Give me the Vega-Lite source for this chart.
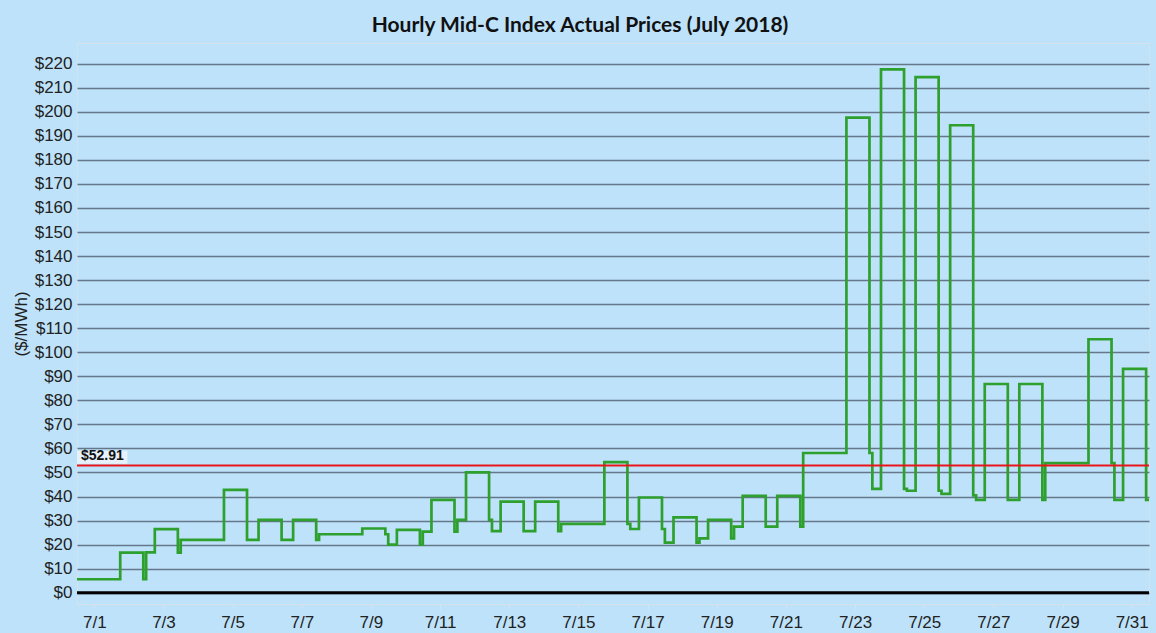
{
  "$schema": "https://vega.github.io/schema/vega-lite/v6.json",
  "width": 1072,
  "height": 561,
  "autosize": {"type": "none"},
  "padding": {"left": 77, "top": 43, "right": 7, "bottom": 29},
  "background": "#bee2fa",
  "title": {
    "text": "Hourly Mid-C Index Actual Prices (July 2018)",
    "font": "Lato",
    "fontSize": 21,
    "fontWeight": "bold",
    "color": "#111111",
    "anchor": "middle",
    "dx": -33,
    "offset": 7
  },
  "config": {
    "view": {"stroke": "#d5e2ec", "strokeWidth": 1},
    "axis": {
      "labelFont": "Liberation Sans",
      "labelFontSize": 17,
      "labelColor": "#222222",
      "titleFont": "Liberation Sans",
      "titleFontSize": 17,
      "titleFontWeight": "normal",
      "titleColor": "#222222"
    },
    "axisY": {"tickCount": 23, "labelOverlap": false}
  },
  "layer": [
    {
      "data": {
        "values": [
          {"t": "2018-07-01T00:00", "p": 5.6},
          {"t": "2018-07-02T06:00", "p": 16.7},
          {"t": "2018-07-02T22:00", "p": 5.6},
          {"t": "2018-07-03T00:00", "p": 16.8},
          {"t": "2018-07-03T06:00", "p": 26.4},
          {"t": "2018-07-03T22:00", "p": 16.7},
          {"t": "2018-07-04T00:00", "p": 22.0},
          {"t": "2018-07-05T06:00", "p": 42.8},
          {"t": "2018-07-05T22:00", "p": 22.0},
          {"t": "2018-07-06T06:00", "p": 30.3},
          {"t": "2018-07-06T22:00", "p": 22.0},
          {"t": "2018-07-07T06:00", "p": 30.3},
          {"t": "2018-07-07T22:00", "p": 22.0},
          {"t": "2018-07-08T00:00", "p": 24.3},
          {"t": "2018-07-09T06:00", "p": 26.7},
          {"t": "2018-07-09T22:00", "p": 24.3},
          {"t": "2018-07-10T00:00", "p": 20.0},
          {"t": "2018-07-10T06:00", "p": 26.1},
          {"t": "2018-07-10T22:00", "p": 20.0},
          {"t": "2018-07-11T00:00", "p": 25.4},
          {"t": "2018-07-11T06:00", "p": 38.6},
          {"t": "2018-07-11T22:00", "p": 25.4},
          {"t": "2018-07-12T00:00", "p": 30.3},
          {"t": "2018-07-12T06:00", "p": 50.0},
          {"t": "2018-07-12T22:00", "p": 30.3},
          {"t": "2018-07-13T00:00", "p": 25.6},
          {"t": "2018-07-13T06:00", "p": 37.9},
          {"t": "2018-07-13T22:00", "p": 25.6},
          {"t": "2018-07-14T06:00", "p": 37.9},
          {"t": "2018-07-14T22:00", "p": 25.6},
          {"t": "2018-07-15T00:00", "p": 28.6},
          {"t": "2018-07-16T06:00", "p": 54.3},
          {"t": "2018-07-16T22:00", "p": 28.6},
          {"t": "2018-07-17T00:00", "p": 26.5},
          {"t": "2018-07-17T06:00", "p": 39.6},
          {"t": "2018-07-17T22:00", "p": 26.5},
          {"t": "2018-07-18T00:00", "p": 20.8},
          {"t": "2018-07-18T06:00", "p": 31.3},
          {"t": "2018-07-18T22:00", "p": 20.8},
          {"t": "2018-07-19T00:00", "p": 22.6},
          {"t": "2018-07-19T06:00", "p": 30.3},
          {"t": "2018-07-19T22:00", "p": 22.6},
          {"t": "2018-07-20T00:00", "p": 27.5},
          {"t": "2018-07-20T06:00", "p": 40.3},
          {"t": "2018-07-20T22:00", "p": 27.5},
          {"t": "2018-07-21T06:00", "p": 40.3},
          {"t": "2018-07-21T22:00", "p": 27.5},
          {"t": "2018-07-22T00:00", "p": 58.1},
          {"t": "2018-07-23T06:00", "p": 197.6},
          {"t": "2018-07-23T22:00", "p": 58.1},
          {"t": "2018-07-24T00:00", "p": 43.2},
          {"t": "2018-07-24T06:00", "p": 217.6},
          {"t": "2018-07-24T22:00", "p": 43.2},
          {"t": "2018-07-25T00:00", "p": 42.4},
          {"t": "2018-07-25T06:00", "p": 214.4},
          {"t": "2018-07-25T22:00", "p": 42.4},
          {"t": "2018-07-26T00:00", "p": 41.1},
          {"t": "2018-07-26T06:00", "p": 194.4},
          {"t": "2018-07-26T22:00", "p": 40.5},
          {"t": "2018-07-27T00:00", "p": 38.6},
          {"t": "2018-07-27T06:00", "p": 86.8},
          {"t": "2018-07-27T22:00", "p": 38.6},
          {"t": "2018-07-28T06:00", "p": 86.8},
          {"t": "2018-07-28T22:00", "p": 38.6},
          {"t": "2018-07-29T00:00", "p": 53.9},
          {"t": "2018-07-30T06:00", "p": 105.4},
          {"t": "2018-07-30T22:00", "p": 53.9},
          {"t": "2018-07-31T00:00", "p": 38.6},
          {"t": "2018-07-31T06:00", "p": 93.1},
          {"t": "2018-07-31T22:00", "p": 38.6},
          {"t": "2018-08-01T00:00", "p": 38.6}
        ]
      },
      "mark": {"type": "line", "interpolate": "step-after", "color": "#2ea02e", "strokeWidth": 2.7, "strokeJoin": "miter"},
      "encoding": {
        "x": {
          "field": "t",
          "type": "temporal",
          "title": null,
          "scale": {
            "domain": [
              {"year": 2018, "month": 7, "date": 1},
              {"year": 2018, "month": 8, "date": 1}
            ],
            "nice": false
          },
          "axis": {
            "values": [
              {"year": 2018, "month": 7, "date": 1, "hours": 12},
              {"year": 2018, "month": 7, "date": 2, "hours": 12},
              {"year": 2018, "month": 7, "date": 3, "hours": 12},
              {"year": 2018, "month": 7, "date": 4, "hours": 12},
              {"year": 2018, "month": 7, "date": 5, "hours": 12},
              {"year": 2018, "month": 7, "date": 6, "hours": 12},
              {"year": 2018, "month": 7, "date": 7, "hours": 12},
              {"year": 2018, "month": 7, "date": 8, "hours": 12},
              {"year": 2018, "month": 7, "date": 9, "hours": 12},
              {"year": 2018, "month": 7, "date": 10, "hours": 12},
              {"year": 2018, "month": 7, "date": 11, "hours": 12},
              {"year": 2018, "month": 7, "date": 12, "hours": 12},
              {"year": 2018, "month": 7, "date": 13, "hours": 12},
              {"year": 2018, "month": 7, "date": 14, "hours": 12},
              {"year": 2018, "month": 7, "date": 15, "hours": 12},
              {"year": 2018, "month": 7, "date": 16, "hours": 12},
              {"year": 2018, "month": 7, "date": 17, "hours": 12},
              {"year": 2018, "month": 7, "date": 18, "hours": 12},
              {"year": 2018, "month": 7, "date": 19, "hours": 12},
              {"year": 2018, "month": 7, "date": 20, "hours": 12},
              {"year": 2018, "month": 7, "date": 21, "hours": 12},
              {"year": 2018, "month": 7, "date": 22, "hours": 12},
              {"year": 2018, "month": 7, "date": 23, "hours": 12},
              {"year": 2018, "month": 7, "date": 24, "hours": 12},
              {"year": 2018, "month": 7, "date": 25, "hours": 12},
              {"year": 2018, "month": 7, "date": 26, "hours": 12},
              {"year": 2018, "month": 7, "date": 27, "hours": 12},
              {"year": 2018, "month": 7, "date": 28, "hours": 12},
              {"year": 2018, "month": 7, "date": 29, "hours": 12},
              {"year": 2018, "month": 7, "date": 30, "hours": 12},
              {"year": 2018, "month": 7, "date": 31, "hours": 12}
            ],
            "labelExpr": "date(datum.value) % 2 == 1 ? timeFormat(datum.value, '%-m/%-d') : ''",
            "labelOverlap": false,
            "grid": false,
            "domain": false,
            "ticks": true,
            "tickColor": "#d6e2ec",
            "tickSize": 5,
            "labelPadding": 5,
            "labelBaseline": "top"
          }
        },
        "y": {
          "field": "p",
          "type": "quantitative",
          "title": "($/MWh)",
          "scale": {"domain": [-4.7, 228.6], "nice": false, "zero": false},
          "axis": {
            "values": [0, 10, 20, 30, 40, 50, 60, 70, 80, 90, 100, 110, 120, 130, 140, 150, 160, 170, 180, 190, 200, 210, 220],
            "tickCount": 23,
            "format": "$.0f",
            "labelOverlap": false,
            "grid": true,
            "gridColor": "#66778a",
            "gridWidth": 1.6,
            "domain": false,
            "ticks": false,
            "labelPadding": 5,
            "titlePadding": 4
          }
        }
      }
    },
    {
      "data": {"values": [{"avg": 52.91, "label": "$52.91"}]},
      "mark": {"type": "rule", "color": "#e8161b", "strokeWidth": 2},
      "encoding": {
        "y": {
          "field": "avg",
          "type": "quantitative",
          "title": "($/MWh)",
          "axis": {
            "values": [0, 10, 20, 30, 40, 50, 60, 70, 80, 90, 100, 110, 120, 130, 140, 150, 160, 170, 180, 190, 200, 210, 220],
            "tickCount": 23,
            "format": "$.0f",
            "labelOverlap": false,
            "grid": true,
            "gridColor": "#66778a",
            "gridWidth": 1.6,
            "domain": false,
            "ticks": false,
            "labelPadding": 5,
            "titlePadding": 4
          }
        }
      }
    },
    {
      "data": {"values": [{"avg": 52.91, "label": "$52.91"}]},
      "mark": {"type": "rect", "fill": "#eaf3fb", "opacity": 0.9},
      "encoding": {
        "x": {"datum": {"year": 2018, "month": 7, "date": 1}, "type": "temporal"},
        "x2": {"datum": {"year": 2018, "month": 7, "date": 2, "hours": 11}},
        "y": {
          "datum": 53.6,
          "type": "quantitative",
          "title": "($/MWh)",
          "axis": {
            "values": [0, 10, 20, 30, 40, 50, 60, 70, 80, 90, 100, 110, 120, 130, 140, 150, 160, 170, 180, 190, 200, 210, 220],
            "tickCount": 23,
            "format": "$.0f",
            "labelOverlap": false,
            "grid": true,
            "gridColor": "#66778a",
            "gridWidth": 1.6,
            "domain": false,
            "ticks": false,
            "labelPadding": 5,
            "titlePadding": 4
          }
        },
        "y2": {"datum": 59.0}
      }
    },
    {
      "data": {"values": [{"avg": 52.91, "label": "$52.91"}]},
      "mark": {"type": "text", "align": "left", "baseline": "bottom", "dx": 4, "dy": -2, "font": "Liberation Sans", "fontSize": 14, "fontWeight": "bold", "color": "#111111"},
      "encoding": {
        "x": {"datum": {"year": 2018, "month": 7, "date": 1}, "type": "temporal"},
        "y": {
          "field": "avg",
          "type": "quantitative",
          "title": "($/MWh)",
          "axis": {
            "values": [0, 10, 20, 30, 40, 50, 60, 70, 80, 90, 100, 110, 120, 130, 140, 150, 160, 170, 180, 190, 200, 210, 220],
            "tickCount": 23,
            "format": "$.0f",
            "labelOverlap": false,
            "grid": true,
            "gridColor": "#66778a",
            "gridWidth": 1.6,
            "domain": false,
            "ticks": false,
            "labelPadding": 5,
            "titlePadding": 4
          }
        },
        "text": {"field": "label"}
      }
    },
    {
      "data": {"values": [{"avg": 52.91, "label": "$52.91"}]},
      "mark": {"type": "rule", "color": "#000000", "strokeWidth": 3},
      "encoding": {
        "y": {
          "datum": 0,
          "type": "quantitative",
          "title": "($/MWh)",
          "axis": {
            "values": [0, 10, 20, 30, 40, 50, 60, 70, 80, 90, 100, 110, 120, 130, 140, 150, 160, 170, 180, 190, 200, 210, 220],
            "tickCount": 23,
            "format": "$.0f",
            "labelOverlap": false,
            "grid": true,
            "gridColor": "#66778a",
            "gridWidth": 1.6,
            "domain": false,
            "ticks": false,
            "labelPadding": 5,
            "titlePadding": 4
          }
        }
      }
    }
  ]
}
